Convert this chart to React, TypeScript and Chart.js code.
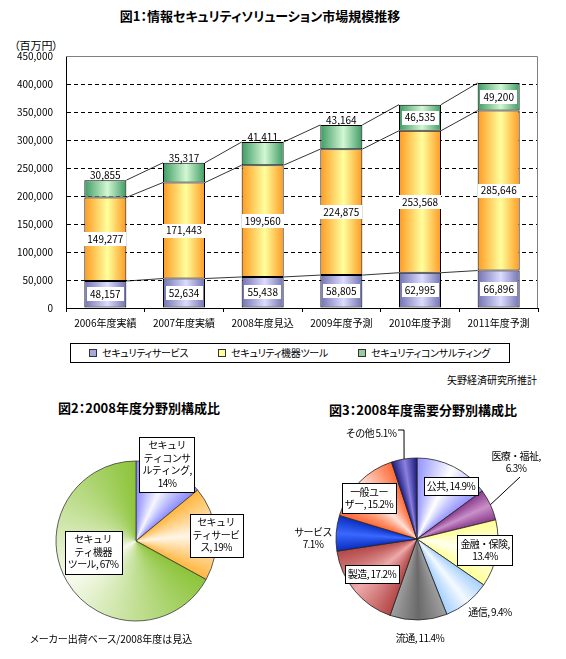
import React, { useEffect, useRef } from "react";
import { Chart, registerables } from "chart.js";

Chart.register(...registerables);

const FONT = '"Noto Sans CJK JP", "Noto Sans", sans-serif';

// ---------------- data ----------------
const fiscalYears = ["2006年度実績", "2007年度実績", "2008年度見込", "2009年度予測", "2010年度予測", "2011年度予測"];
const seriesNames = ["セキュリティサービス", "セキュリティ機器ツール", "セキュリティコンサルティング"];
const serviceValues = [48157, 52634, 55438, 58805, 62995, 66896];
const toolValues = [149277, 171443, 199560, 224875, 253568, 285646];
const consultingValues = [30855, 35317, 41411, 43164, 46535, 49200];
const yAxisMax = 450000;
const yAxisStep = 50000;

const shareLabels = ["セキュリティコンサルティング", "セキュリティサービス", "セキュリティ機器ツール"];
const shareValues = [14, 19, 67];

const demandLabels = ["公共", "医療・福祉", "金融・保険", "通信", "流通", "製造", "サービス", "一般ユーザー", "その他"];
const demandValues = [14.9, 6.3, 13.4, 9.4, 11.4, 17.2, 7.1, 15.2, 5.1];

// ---------------- styles ----------------
const barPct = 0.534;
const barColors = [
  { edge: "#7272b2", mid: "#dcdcff" },
  { edge: "#ff9a22", mid: "#ffff9c" },
  { edge: "#3f9a64", mid: "#d2f8d2" },
];
const legendSwatch = ["#a8a8dc", "#ffff99", "#99cc99"];

const shareColors = [
  { edge: "#8c8cff", mid: "#f6f6ff" },
  { edge: "#ffb640", mid: "#fff6e6" },
  { edge: "#8cc43a", mid: "#f6faec" },
];
const demandColors = [
  { edge: "#9494ff", mid: "#ffffff" },
  { edge: "#8c3c8c", mid: "#c890c8" },
  { edge: "#ffff99", mid: "#fffff0" },
  { edge: "#a6d0ff", mid: "#f4f9ff" },
  { edge: "#a0a0a0", mid: "#6a6a6a" },
  { edge: "#b44848", mid: "#eeaaaa" },
  { edge: "#0a2fc0", mid: "#3a68ff" },
  { edge: "#ff6a36", mid: "#ffe2da" },
  { edge: "#1c1c7c", mid: "#8a80e0" },
];

type Spec = { sep?: string; breaks?: number[]; dx: number; dy: number; box: boolean; leader?: [number, number][] };

const shareSpecs: Spec[] = [
  { breaks: [4, 9, 15], dx: 31, dy: -77, box: true },
  { breaks: [4, 9], dx: 80, dy: -6, box: true },
  { breaks: [4, 8], dx: -43, dy: 11, box: true },
];
const demandSpecs: Spec[] = [
  { dx: 34, dy: -53, box: true },
  { breaks: [6], dx: 99, dy: -77, box: false, leader: [[103, -62]] },
  { breaks: [6], dx: 68, dy: 11, box: true },
  { dx: 73, dy: 73, box: false },
  { dx: 3, dy: 99, box: false },
  { dx: -45, dy: 35, box: true },
  { sep: "\n", dx: -104, dy: -1, box: false },
  { breaks: [4], dx: -48, dy: -41, box: true },
  { sep: " ", dx: -46, dy: -106, box: false, leader: [[-19, -109], [-13, -109]] },
];

function buildLines(label: string, pct: string, spec: Spec): string[] {
  const text = label + (spec.sep ?? ", ") + pct;
  const out: string[] = [];
  text.split("\n").forEach((part) => {
    let prev = 0;
    (spec.breaks || []).forEach((b) => {
      out.push(part.slice(prev, b).trim());
      prev = b;
    });
    out.push(part.slice(prev).trim());
  });
  return out.filter((s) => s.length > 0);
}

// ---------------- plugins ----------------
const barDecor = {
  id: "barDecor",
  beforeDatasetsDraw(chart: any) {
    const ctx = chart.ctx;
    ctx.save();
    ctx.strokeStyle = "#000";
    ctx.lineWidth = 0.8;
    chart.data.datasets.forEach((_ds: any, d: number) => {
      const bars = chart.getDatasetMeta(d).data;
      for (let i = 0; i < bars.length - 1; i++) {
        const a = bars[i].getProps(["x", "y", "width"], true);
        const b = bars[i + 1].getProps(["x", "y", "width"], true);
        ctx.beginPath();
        ctx.moveTo(a.x + a.width / 2, a.y);
        ctx.lineTo(b.x - b.width / 2, b.y);
        ctx.stroke();
      }
    });
    const { top, right, left, bottom } = chart.chartArea;
    ctx.strokeStyle = "#808080";
    ctx.lineWidth = 1;
    ctx.beginPath();
    ctx.moveTo(left, top + 0.5);
    ctx.lineTo(right - 0.5, top + 0.5);
    ctx.lineTo(right - 0.5, bottom);
    ctx.stroke();
    ctx.restore();
  },
  afterDatasetsDraw(chart: any) {
    const ctx = chart.ctx;
    ctx.save();
    ctx.font = `10px ${FONT}`;
    ctx.textAlign = "center";
    ctx.textBaseline = "middle";
    chart.data.datasets.forEach((ds: any, d: number) => {
      const bars = chart.getDatasetMeta(d).data;
      bars.forEach((bar: any, i: number) => {
        const { x, y, base } = bar.getProps(["x", "y", "base"], true);
        const text = Number(ds.data[i]).toLocaleString("en-US");
        const h = Math.abs(base - y);
        const tw = ctx.measureText(text).width;
        if (d === chart.data.datasets.length - 1 && h < 25) {
          ctx.fillStyle = "#000";
          ctx.fillText(text, x, y - 5);
        } else {
          const cy = (y + base) / 2;
          ctx.fillStyle = "#fff";
          ctx.fillRect(Math.round(x - tw / 2 - 3), Math.round(cy - 7), Math.round(tw + 6), 14);
          ctx.fillStyle = "#000";
          ctx.fillText(text, x, cy);
        }
      });
    });
    ctx.restore();
  },
};

const sliceLabels = {
  id: "sliceLabels",
  afterDatasetsDraw(chart: any, _args: any, opts: any) {
    const specs: Spec[] = opts.specs;
    const labels: string[] = chart.data.labels;
    const values: number[] = chart.data.datasets[0].data;
    const digits: number = opts.digits;
    const ctx = chart.ctx;
    const arcs = chart.getDatasetMeta(0).data;
    ctx.save();
    ctx.font = `10px ${FONT}`;
    (ctx as any).letterSpacing = "-0.6px";
    ctx.textAlign = "center";
    ctx.textBaseline = "middle";
    const lh = 12.5;
    arcs.forEach((arc: any, i: number) => {
      const spec = specs[i];
      if (!spec) return;
      const { x, y, startAngle, endAngle, outerRadius } = arc.getProps(["x", "y", "startAngle", "endAngle", "outerRadius"], true);
      const pct = values[i].toFixed(digits) + "%";
      const lines = buildLines(labels[i], pct, spec);
      const cx = x + spec.dx;
      const cy = y + spec.dy;
      const w = Math.max(...lines.map((l) => ctx.measureText(l).width));
      const hgt = lines.length * lh;
      if (spec.box) {
        const bx = Math.round(cx - w / 2 - 3) + 0.5;
        const by = Math.round(cy - hgt / 2 - 2.5) + 0.5;
        ctx.fillStyle = "#fff";
        ctx.fillRect(bx, by, Math.round(w + 6), Math.round(hgt + 5));
        ctx.strokeStyle = "#000";
        ctx.lineWidth = 1;
        ctx.strokeRect(bx, by, Math.round(w + 6), Math.round(hgt + 5));
      }
      if (spec.leader) {
        const mid = (startAngle + endAngle) / 2;
        ctx.strokeStyle = "#000";
        ctx.lineWidth = 1;
        ctx.beginPath();
        spec.leader.forEach(([lx, ly], k) => {
          if (k === 0) ctx.moveTo(x + lx, y + ly);
          else ctx.lineTo(x + lx, y + ly);
        });
        ctx.lineTo(x + outerRadius * Math.cos(mid), y + outerRadius * Math.sin(mid));
        ctx.stroke();
      }
      ctx.fillStyle = "#000";
      lines.forEach((l, k) => {
        ctx.fillText(l, cx, cy - hgt / 2 + lh * (k + 0.5));
      });
    });
    ctx.restore();
  },
};

function barGradient(idx: number) {
  const { edge, mid } = barColors[idx];
  return (c: any) => {
    const chart = c.chart;
    const xs = chart.scales && chart.scales.x;
    if (!chart.chartArea || !xs || typeof c.dataIndex !== "number") return mid;
    const cx = xs.getPixelForValue(c.dataIndex);
    const half = ((xs.width / fiscalYears.length) * barPct) / 2;
    const g = chart.ctx.createLinearGradient(cx - half, 0, cx + half, 0);
    g.addColorStop(0, edge);
    g.addColorStop(0.55, mid);
    g.addColorStop(1, edge);
    return g;
  };
}

function sliceGradient(colors: { edge: string; mid: string }[]) {
  return (c: any) => {
    const chart = c.chart;
    const area = chart.chartArea;
    const i = c.dataIndex;
    if (!area || typeof i !== "number") return colors[0].edge;
    const data: number[] = c.dataset.data;
    const total = data.reduce((s, v) => s + v, 0);
    let cum = 0;
    for (let k = 0; k < i; k++) cum += data[k];
    const a0 = -Math.PI / 2 + (2 * Math.PI * cum) / total;
    const f = data[i] / total;
    const cx = (area.left + area.right) / 2;
    const cy = (area.top + area.bottom) / 2;
    const g = chart.ctx.createConicGradient(a0, cx, cy);
    g.addColorStop(0, colors[i].edge);
    g.addColorStop(f / 2, colors[i].mid);
    g.addColorStop(f, colors[i].edge);
    g.addColorStop(1, colors[i].edge);
    return g;
  };
}

const abs = (x: number, y: number, extra: React.CSSProperties = {}): React.CSSProperties => ({
  position: "absolute",
  left: x,
  top: y,
  whiteSpace: "nowrap",
  fontFamily: FONT,
  fontFeatureSettings: '"palt"',
  color: "#000",
  lineHeight: "14px",
  ...extra,
});

export default function App() {
  const barRef = useRef<HTMLCanvasElement | null>(null);
  const pie1Ref = useRef<HTMLCanvasElement | null>(null);
  const pie2Ref = useRef<HTMLCanvasElement | null>(null);

  useEffect(() => {
    Chart.defaults.font.family = FONT;
    Chart.defaults.color = "#000";
    const charts: Chart[] = [];

    charts.push(
      new Chart(barRef.current!, {
        type: "bar",
        data: {
          labels: fiscalYears,
          datasets: [serviceValues, toolValues, consultingValues].map((vals, i) => ({
            label: seriesNames[i],
            data: vals,
            backgroundColor: barGradient(i),
            borderColor: "#000",
            borderWidth: 1,
            borderSkipped: false,
            barPercentage: barPct,
            categoryPercentage: 1,
          })),
        },
        options: {
          responsive: false,
          animation: false,
          layout: { padding: { top: 56, right: 28, left: 0, bottom: 0 } },
          plugins: { legend: { display: false }, tooltip: { enabled: false } },
          scales: {
            x: {
              stacked: true,
              grid: { display: true, drawOnChartArea: false, drawTicks: true, tickLength: 4, color: "#000", offset: true },
              border: { color: "#000", width: 1 },
              ticks: { font: { size: 10 }, color: "#000", padding: 5, maxRotation: 0, autoSkip: false },
              afterFit: (s: any) => {
                s.height = 27;
              },
            },
            y: {
              stacked: true,
              min: 0,
              max: yAxisMax,
              ticks: {
                stepSize: yAxisStep,
                font: { size: 10 },
                color: "#000",
                padding: 13,
                callback: (v: any) => Number(v).toLocaleString("en-US"),
              },
              grid: {
                drawTicks: false,
                lineWidth: 1,
                color: (c: any) => (c.tick && (c.tick.value === 0 || c.tick.value === yAxisMax) ? "rgba(0,0,0,0)" : "#000"),
              },
              border: { color: "#000", width: 1, dash: [4, 3] },
              afterFit: (s: any) => {
                s.width = 66;
              },
            },
          },
        },
        plugins: [barDecor],
      } as any)
    );

    charts.push(
      new Chart(pie1Ref.current!, {
        type: "pie",
        data: {
          labels: shareLabels,
          datasets: [
            {
              data: shareValues,
              backgroundColor: sliceGradient(shareColors),
              borderColor: "#3a3a3a",
              borderWidth: 0.8,
            },
          ],
        },
        options: {
          responsive: false,
          animation: false,
          radius: 80,
          plugins: {
            legend: { display: false },
            tooltip: { enabled: false },
            sliceLabels: { specs: shareSpecs, digits: 0 },
          },
        },
        plugins: [sliceLabels],
      } as any)
    );

    charts.push(
      new Chart(pie2Ref.current!, {
        type: "pie",
        data: {
          labels: demandLabels,
          datasets: [
            {
              data: demandValues,
              backgroundColor: sliceGradient(demandColors),
              borderColor: "#222",
              borderWidth: 0.8,
            },
          ],
        },
        options: {
          responsive: false,
          animation: false,
          radius: 81,
          plugins: {
            legend: { display: false },
            tooltip: { enabled: false },
            sliceLabels: { specs: demandSpecs, digits: 1 },
          },
        },
        plugins: [sliceLabels],
      } as any)
    );

    return () => charts.forEach((c) => c.destroy());
  }, []);

  return (
    <div style={{ position: "absolute", left: 0, top: 0, width: 566, height: 659, overflow: "hidden", background: "#fff" }}>
      <div style={abs(260, 9, { transform: "translateX(-50%)", fontSize: 13, fontWeight: "bold" })}>
        図1：情報セキュリティソリューション市場規模推移
      </div>
      <div style={abs(14, 38, { fontSize: 11 })}>（百万円）</div>
      <canvas ref={barRef} width={566} height={335} style={{ position: "absolute", left: 0, top: 0 }} />

      <div
        style={abs(70, 343, {
          width: 440,
          height: 20,
          border: "1px solid #000",
          display: "flex",
          alignItems: "center",
          paddingLeft: 18,
          boxSizing: "border-box",
          gap: 30,
          fontSize: 10,
          letterSpacing: "-0.3px",
        })}
      >
        {seriesNames.map((n, i) => (
          <span key={n} style={{ display: "flex", alignItems: "center" }}>
            <span style={{ display: "inline-block", width: 6, height: 6, border: "1px solid #333", background: legendSwatch[i], marginRight: 5 }} />
            {n}
          </span>
        ))}
      </div>
      <div style={abs(537, 373, { transform: "translateX(-100%)", fontSize: 10 })}>矢野経済研究所推計</div>

      <div style={abs(139, 401, { transform: "translateX(-50%)", fontSize: 13, fontWeight: "bold" })}>図2：2008年度分野別構成比</div>
      <div style={abs(423, 403, { transform: "translateX(-50%)", fontSize: 13, fontWeight: "bold" })}>図3：2008年度需要分野別構成比</div>

      <canvas ref={pie1Ref} width={272} height={234} style={{ position: "absolute", left: 0, top: 424 }} />
      <canvas ref={pie2Ref} width={268} height={234} style={{ position: "absolute", left: 283, top: 422 }} />

      <div style={abs(30, 632, { fontSize: 10 })}>メーカー出荷ベース/2008年度は見込</div>
    </div>
  );
}
